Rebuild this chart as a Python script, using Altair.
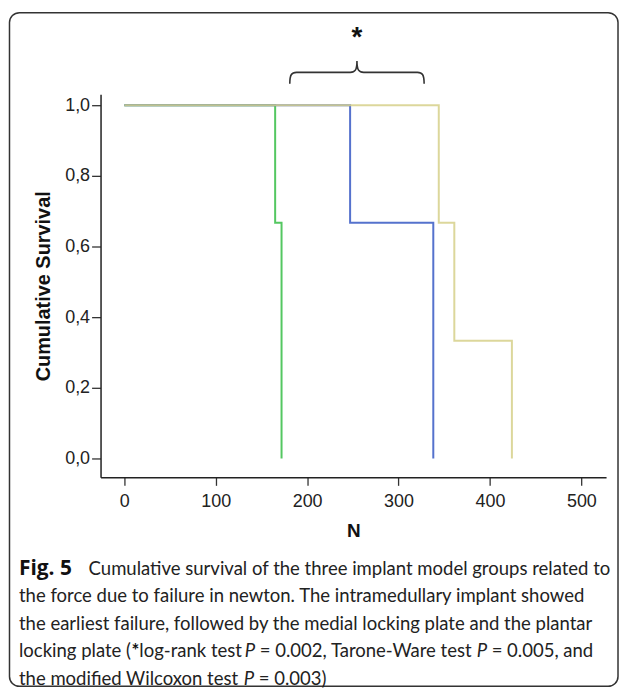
import altair as alt
import pandas as pd

# ---- data ----
groups = ["Intramedullary", "Medial plate", "Plantar plate"]
colors = ["#36bd45", "#3759c4", "#d6d08a"]
green_x = [0, 165, 172, 172]
green_y = [1.0, 0.667, 0.333, 0.0]
blue_x = [0, 247, 338]
blue_y = [1.0, 0.667, 0.0]
yellow_x = [0, 344, 361, 424]
yellow_y = [1.0, 0.667, 0.333, 0.0]

x_ticks = [0, 100, 200, 300, 400, 500]
y_ticks = [0.0, 0.2, 0.4, 0.6, 0.8, 1.0]

brace_from, brace_to, brace_level = 181, 328, 1.093
star_level = 1.207

# caption pieces: (line, text, x offset from caption left, style)
caption_parts = [
    (0, "Fig. 5", 0, "bold"),
    (0, "Cumulative survival of the three implant model groups related to", 70, "normal"),
    (1, "the force due to failure in newton. The intramedullary implant showed", 0, "normal"),
    (2, "the earliest failure, followed by the medial locking plate and the plantar", 0, "normal"),
    (3, "locking plate (", 0, "normal"),
    (3, "*", 113, "bold"),
    (3, "log-rank test", 121, "normal"),
    (3, "P", 227, "italic"),
    (3, "= 0.002, Tarone-Ware test", 242, "normal"),
    (3, "P", 460, "italic"),
    (3, "= 0.005, and", 475, "normal"),
    (4, "the modified Wilcoxon test", 0, "normal"),
    (4, "P", 226, "italic"),
    (4, "= 0.003)", 241, "normal"),
]

rows = []
for g, xs_, ys_ in zip(groups, [green_x, blue_x, yellow_x], [green_y, blue_y, yellow_y]):
    for i, (a, b) in enumerate(zip(xs_, ys_)):
        rows.append({"group": g, "N": a, "surv": b, "step": i})
df = pd.DataFrame(rows)

W, H = 508, 385
xs = alt.Scale(domain=[-26, 527], nice=False, zero=False)
ys = alt.Scale(domain=[-0.0535, 1.031], nice=False, zero=False)

lines = alt.Chart(df).mark_line(interpolate="step-after", strokeWidth=2, opacity=0.85).encode(
    x=alt.X("N:Q", scale=xs, title="N",
            axis=alt.Axis(values=x_ticks, grid=False, tickSize=8, labelPadding=7,
                          titlePadding=11, labelFontSize=18, titleFontSize=19,
                          titleFontWeight="bold", labelFlush=False)),
    y=alt.Y("surv:Q", scale=ys, title="Cumulative Survival",
            axis=alt.Axis(values=y_ticks, grid=False, tickSize=9, labelPadding=2,
                          titlePadding=11, labelFontSize=18, titleFontSize=20,
                          titleFontWeight="bold", labelFlush=False,
                          labelExpr="replace(format(datum.value, '.1f'), '.', ',')")),
    color=alt.Color("group:N", scale=alt.Scale(domain=groups, range=colors), legend=None),
    order="step:Q",
)

brace_df = pd.DataFrame({"mid": [(brace_from + brace_to) / 2], "lev": [brace_level],
                         "star": [star_level]})
brace_path = ("M -1 0.17 C -1 0.03 -0.97 0 -0.9 0 L -0.1 0 C -0.03 0 0 -0.03 0 -0.17 "
              "C 0 -0.03 0.03 0 0.1 0 L 0.9 0 C 0.97 0 1 0.03 1 0.17")
brace = alt.Chart(brace_df).mark_point(shape=brace_path, filled=False, stroke="#333",
                                       strokeWidth=1.6, size=135 * 135, opacity=1).encode(
    x=alt.X("mid:Q", scale=xs), y=alt.Y("lev:Q", scale=ys))
star = alt.Chart(brace_df).mark_text(text="*", font="Liberation Sans", fontWeight="bold",
                                     fontSize=28, baseline="middle", dy=6, color="#111").encode(
    x=alt.X("mid:Q", scale=xs), y=alt.Y("star:Q", scale=ys))

one = pd.DataFrame({"k": [0]})
frame = alt.Chart(one).mark_rect(fill=None, stroke="#333", strokeWidth=1.5, cornerRadius=10).encode(
    x=alt.value(-91.5), x2=alt.value(520), y=alt.value(-82), y2=alt.value(595))

cap_font = "Lato"
cap_size = 18.6
cap_x = -82
cap_y0 = 483
cap_step = 27.6
cap_layers = []
for li, txt, off, style in caption_parts:
    kw = dict(align="left", baseline="alphabetic", font=cap_font, fontSize=cap_size,
              color="#222", text=txt)
    if style == "bold":
        kw.update(fontWeight="bold", color="#111")
        if txt.startswith("Fig"):
            kw.update(font="Open Sans", fontSize=21)
    elif style == "italic":
        kw.update(fontStyle="italic")
    cap_layers.append(alt.Chart(one).mark_text(**kw).encode(
        x=alt.value(cap_x + off), y=alt.value(cap_y0 + li * cap_step)))

chart = alt.layer(frame, lines, brace, star, *cap_layers).properties(
    width=W, height=H, padding={"left": 0, "top": 2, "right": 0, "bottom": 0}
).configure_view(stroke=None).configure_axis(
    domainColor="#222", domainWidth=1.5, tickColor="#333", tickWidth=1.3,
    labelColor="#222", titleColor="#111", labelFont="Liberation Sans", titleFont="Liberation Sans"
)

chart.save("out.html", embed_options={"renderer": "svg", "actions": False})
